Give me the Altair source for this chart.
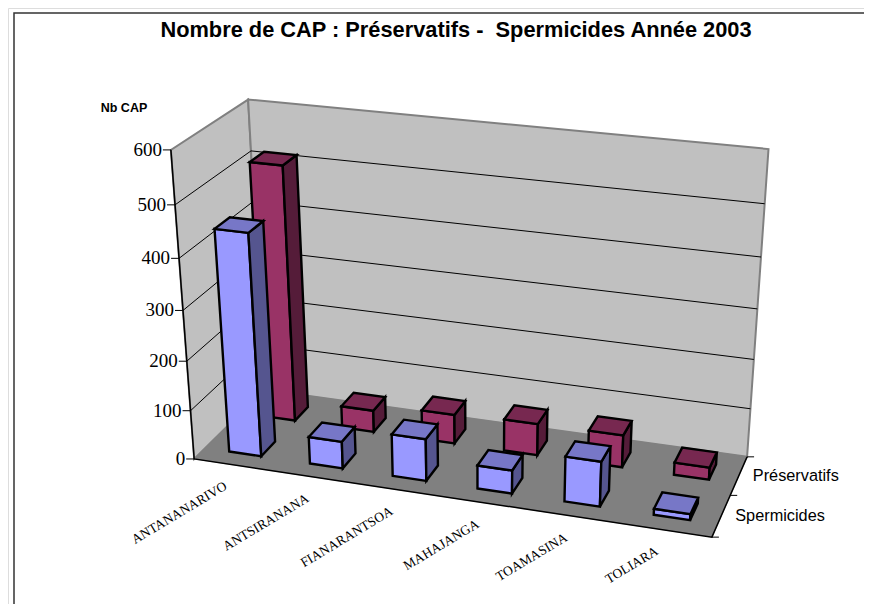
import altair as alt
import numpy as np
import pandas as pd

TITLE = "Nombre de CAP : Préservatifs - \u00a0Spermicides Année 2003"
Y_TITLE = "Nb CAP"
categories = ["ANTANANARIVO", "ANTSIRANANA", "FIANARANTSOA", "MAHAJANGA", "TOAMASINA", "TOLIARA"]
series = ["Spermicides", "Préservatifs"]
spermicides = [444, 55, 85, 47, 90, 12]
preservatifs = [518, 45, 60, 65, 66, 25]
y_ticks = [0, 100, 200, 300, 400, 500, 600]

# Camera calibration: box corner (category pos, series pos, value) -> page pixel
box_corners = [(0, 0, 0), (0, 0, 600), (0, 2, 0), (0, 2, 600), (6, 2, 600), (6, 2, 0), (6, 0, 0)]
page_corners = [(194, 459), (171, 150), (264.5, 389.7), (248, 99.5), (768.5, 149), (747, 457), (712, 537)]

A, b = [], []
for (u, v, h), (px, py) in zip(box_corners, page_corners):
    A.append([u, v, h, 1, 0, 0, 0, 0, -px * u, -px * v, -px * h])
    A.append([0, 0, 0, 0, u, v, h, 1, -py * u, -py * v, -py * h])
    b += [px, py]
m = np.linalg.lstsq(np.array(A, float), np.array(b, float), rcond=None)[0]


def proj(u, v, h):
    w = m[8] * u + m[9] * v + m[10] * h + 1
    return (m[0] * u + m[1] * v + m[2] * h + m[3]) / w, (m[4] * u + m[5] * v + m[6] * h + m[7]) / w


closed_rows, open_rows, bar_rows = [], [], []
pid = [0]


def poly(dest, pts, fill="transparent", stroke="#000000", sw=1.0):
    pid[0] += 1
    for i, (u, v, h) in enumerate(pts):
        x, y = proj(u, v, h)
        dest.append(dict(poly=pid[0], i=i, x=x, y=y, fill=fill, stroke=stroke, sw=sw))


def page_line(dest, pts, stroke="#000000", sw=1.0):
    pid[0] += 1
    for i, (x, y) in enumerate(pts):
        dest.append(dict(poly=pid[0], i=i, x=x, y=y, fill="transparent", stroke=stroke, sw=sw))


WALL, FLOOR, EDGE = "#C0C0C0", "#808080", "#808080"
poly(closed_rows, [(0, 0, 0), (0, 0, 600), (0, 2, 600), (0, 2, 0)], WALL, EDGE, 2)
poly(closed_rows, [(0, 2, 0), (0, 2, 600), (6, 2, 600), (6, 2, 0)], WALL, EDGE, 2)
poly(closed_rows, [(0, 0, 0), (6, 0, 0), (6, 2, 0), (0, 2, 0)], FLOOR, FLOOR, 0.5)
for t in y_ticks[1:-1]:
    poly(open_rows, [(0, 0, t), (0, 2, t), (6, 2, t)], "transparent", "#000000", 1)
poly(open_rows, [(0, 0, 600), (0, 0, 0), (6, 0, 0), (6, 2, 0)], "transparent", "#000000", 1.5)
for t in y_ticks:
    x, y = proj(0, 0, t)
    page_line(open_rows, [(x - 8, y), (x, y)], "#000000", 1)
for v in [0, 1, 2]:
    x, y = proj(6, v, 0)
    page_line(open_rows, [(x, y), (x + 7, y)], "#000000", 1)
page_line(open_rows, [(14, 640), (14, 13), (900, 13)], "#333333", 1.5)

PAL = {0: ("#9999FF", "#7777C7", "#55558F"), 1: ("#993366", "#772850", "#551C39")}
W0, W1 = 0.3, 0.7
for s, vals in reversed(list(enumerate([spermicides, preservatifs]))):
    front, top, side = PAL[s]
    for c in range(5, -1, -1):
        h = vals[c]
        u0, u1, v0, v1 = c + W0, c + W1, s + W0, s + W1
        poly(bar_rows, [(u0, v0, 0), (u1, v0, 0), (u1, v0, h), (u0, v0, h)], front, "#000000", 2.4)
        poly(bar_rows, [(u1, v0, 0), (u1, v1, 0), (u1, v1, h), (u1, v0, h)], side, "#000000", 2.4)
        poly(bar_rows, [(u0, v0, h), (u1, v0, h), (u1, v1, h), (u0, v1, h)], top, "#000000", 2.4)

xs = alt.Scale(domain=[8, 864], range=[0, 856], nice=False, zero=False)
ys = alt.Scale(domain=[8, 604], range=[0, 596], nice=False, zero=False)
X = lambda: alt.X("x:Q", scale=xs, axis=None)
Y = lambda: alt.Y("y:Q", scale=ys, axis=None)


def layer(rows, interp):
    return alt.Chart(pd.DataFrame(rows)).mark_line(interpolate=interp, filled=True).encode(
        x=X(), y=Y(), detail="poly:N", order="i:Q",
        fill=alt.Fill("fill:N", scale=None),
        stroke=alt.Stroke("stroke:N", scale=None),
        strokeWidth=alt.StrokeWidth("sw:Q", scale=None),
    )


def text_layer(items, **kw):
    d = pd.DataFrame([dict(x=x, y=y, t=t) for x, y, t in items])
    return alt.Chart(d).mark_text(baseline="middle", color="#000000", **kw).encode(x=X(), y=Y(), text="t:N")


def cat_item(c, n):
    x, y = proj(c + 0.5, 0, 0)
    return (x - 8.5, y + 20, n)


tick_text = text_layer([(*proj(0, 0, t), str(t)) for t in y_ticks], font="Liberation Serif", fontSize=19, align="right", dx=-9)
cat_text = text_layer([cat_item(c, n) for c, n in enumerate(categories)], font="Liberation Serif", fontSize=13.5, align="right", angle=329)
ser_text = text_layer([(*proj(6, s + 0.5, 0), n) for s, n in enumerate(series)], font="Liberation Sans", fontSize=16.3, align="left", dx=14)
title_text = text_layer([(456, 30, TITLE)], font="Liberation Sans", fontSize=21.8, fontWeight="bold", align="center")
yt_text = text_layer([(124, 108, Y_TITLE)], font="Liberation Sans", fontSize=12.5, fontWeight="bold", align="center")

chart = (layer(closed_rows, "linear-closed") + layer(open_rows, "linear") + layer(bar_rows, "linear-closed")
         + tick_text + cat_text + ser_text + title_text + yt_text).properties(
    width=856, height=596, padding=0, autosize=alt.AutoSizeParams(type="none")
).configure_view(stroke=None).configure(background="#FFFFFF")
chart.save("out.html", embed_options={"renderer": "svg", "actions": False})
